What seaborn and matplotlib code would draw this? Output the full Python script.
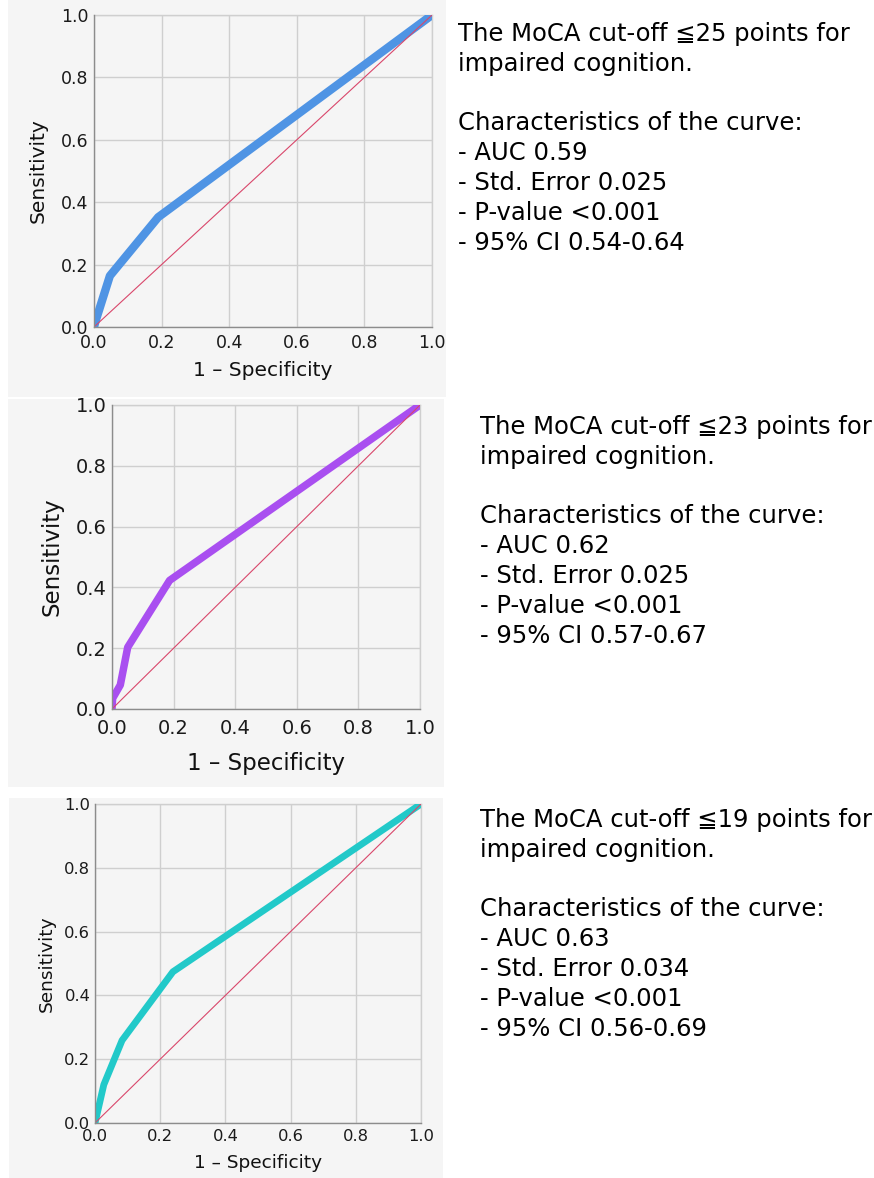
import matplotlib
matplotlib.use("Agg")
import matplotlib.pyplot as plt
from matplotlib.patches import Rectangle
import seaborn as sns
import pandas as pd

# ---------------- data ----------------
fpr_25 = [0.0, 0.005, 0.047, 0.19, 1.0]
tpr_25 = [0.0, 0.02, 0.164, 0.352, 1.0]
fpr_23 = [0.0, 0.002, 0.027, 0.051, 0.187, 1.0]
tpr_23 = [0.0, 0.035, 0.079, 0.203, 0.423, 1.0]
fpr_19 = [0.0, 0.027, 0.083, 0.239, 1.0]
tpr_19 = [0.0, 0.12, 0.259, 0.474, 1.0]
ref_line = [0.0, 1.0]
tick_vals = [0.0, 0.2, 0.4, 0.6, 0.8, 1.0]
tick_labels = ["0.0", "0.2", "0.4", "0.6", "0.8", "1.0"]
x_label = "1 – Specificity"
y_label = "Sensitivity"

text_25 = ["The MoCA cut-off ≦25 points for", "impaired cognition.", "",
           "Characteristics of the curve:", "- AUC 0.59", "- Std. Error 0.025",
           "- P-value <0.001", "- 95% CI 0.54-0.64"]
text_23 = ["The MoCA cut-off ≦23 points for", "impaired cognition.", "",
           "Characteristics of the curve:", "- AUC 0.62", "- Std. Error 0.025",
           "- P-value <0.001", "- 95% CI 0.57-0.67"]
text_19 = ["The MoCA cut-off ≦19 points for", "impaired cognition.", "",
           "Characteristics of the curve:", "- AUC 0.63", "- Std. Error 0.034",
           "- P-value <0.001", "- 95% CI 0.56-0.69"]

# ---------------- style ----------------
sns.set_theme(style="whitegrid")
plt.rcParams["font.family"] = ["DejaVu Sans", "Noto Sans CJK JP"]

W, H = 874, 1178
fig = plt.figure(figsize=(W / 100, H / 100), dpi=100)
fig.patch.set_facecolor("white")

BG = "#f5f5f5"
GRID = "#cfcfcf"
REF = "#d9476b"

panels = [
    dict(fpr=fpr_25, tpr=tpr_25, color="#4f94e4", lw=6.0,
         bg=(8, 0, 446, 397), ax=(94, 15, 432, 327),
         tick_fs=12.5, lab_fs=14.5, xpad=5.3, ypad=4.0,
         xl=-0.141, yl=-0.166, text=text_25, tx=458, ty0=41, dy=29.8),
    dict(fpr=fpr_23, tpr=tpr_23, color="#a94ff0", lw=5.4,
         bg=(8, 399, 444, 787), ax=(112, 405, 420, 709),
         tick_fs=14, lab_fs=16.5, xpad=7.0, ypad=4.0,
         xl=-0.178, yl=-0.195, text=text_23, tx=480, ty0=434, dy=29.8),
    dict(fpr=fpr_19, tpr=tpr_19, color="#22c9c9", lw=4.9,
         bg=(9, 798, 443, 1178), ax=(95, 804, 421, 1123),
         tick_fs=11.8, lab_fs=13.3, xpad=4.6, ypad=3.4,
         xl=-0.125, yl=-0.147, text=text_19, tx=480, ty0=827, dy=29.8),
]

for p in panels:
    x0, y0, x1, y1 = p["bg"]
    fig.patches.append(Rectangle((x0 / W, 1 - y1 / H), (x1 - x0) / W, (y1 - y0) / H,
                                 transform=fig.transFigure, facecolor=BG,
                                 edgecolor="none", zorder=-5))
    ax0, ay0, ax1, ay1 = p["ax"]
    ax = fig.add_axes([ax0 / W, 1 - ay1 / H, (ax1 - ax0) / W, (ay1 - ay0) / H])
    ax.set_zorder(2)
    ax.set_facecolor(BG)

    df = pd.DataFrame({"fpr": p["fpr"], "tpr": p["tpr"]})
    sns.lineplot(data=df, x="fpr", y="tpr", ax=ax, color=p["color"], lw=p["lw"],
                 estimator=None, sort=False, zorder=3,
                 solid_capstyle="butt", solid_joinstyle="round")
    ref = pd.DataFrame({"x": ref_line, "y": ref_line})
    sns.lineplot(data=ref, x="x", y="y", ax=ax, color=REF, lw=0.8,
                 estimator=None, sort=False, zorder=4)

    ax.set_xlim(0, 1)
    ax.set_ylim(0, 1)
    ax.set_xticks(tick_vals)
    ax.set_yticks(tick_vals)
    ax.set_xticklabels(tick_labels)
    ax.set_yticklabels(tick_labels)
    ax.grid(True, color=GRID, lw=1.0)
    ax.set_axisbelow(True)
    ax.tick_params(axis="both", length=0, labelsize=p["tick_fs"], colors="#1a1a1a")
    ax.tick_params(axis="x", pad=p["xpad"])
    ax.tick_params(axis="y", pad=p["ypad"])
    for s in ["left", "bottom"]:
        ax.spines[s].set_color("#8c8c8c")
        ax.spines[s].set_linewidth(1.0)
        ax.spines[s].set_zorder(5)
    for s in ["top", "right"]:
        ax.spines[s].set_color(GRID)
        ax.spines[s].set_linewidth(1.0)

    ax.set_xlabel(x_label, fontsize=p["lab_fs"], color="#111111")
    ax.set_ylabel(y_label, fontsize=p["lab_fs"], color="#111111")
    ax.xaxis.label.set_va("center")
    ax.yaxis.label.set_va("center")
    ax.xaxis.set_label_coords(0.5, p["xl"])
    ax.yaxis.set_label_coords(p["yl"], 0.5)

    for i, line in enumerate(p["text"]):
        if not line:
            continue
        yy = p["ty0"] + i * p["dy"]
        fig.text(p["tx"] / W, 1 - yy / H, line, fontsize=17.5, color="black",
                 ha="left", va="baseline")

fig.savefig("out.png", dpi=100, facecolor="white")
